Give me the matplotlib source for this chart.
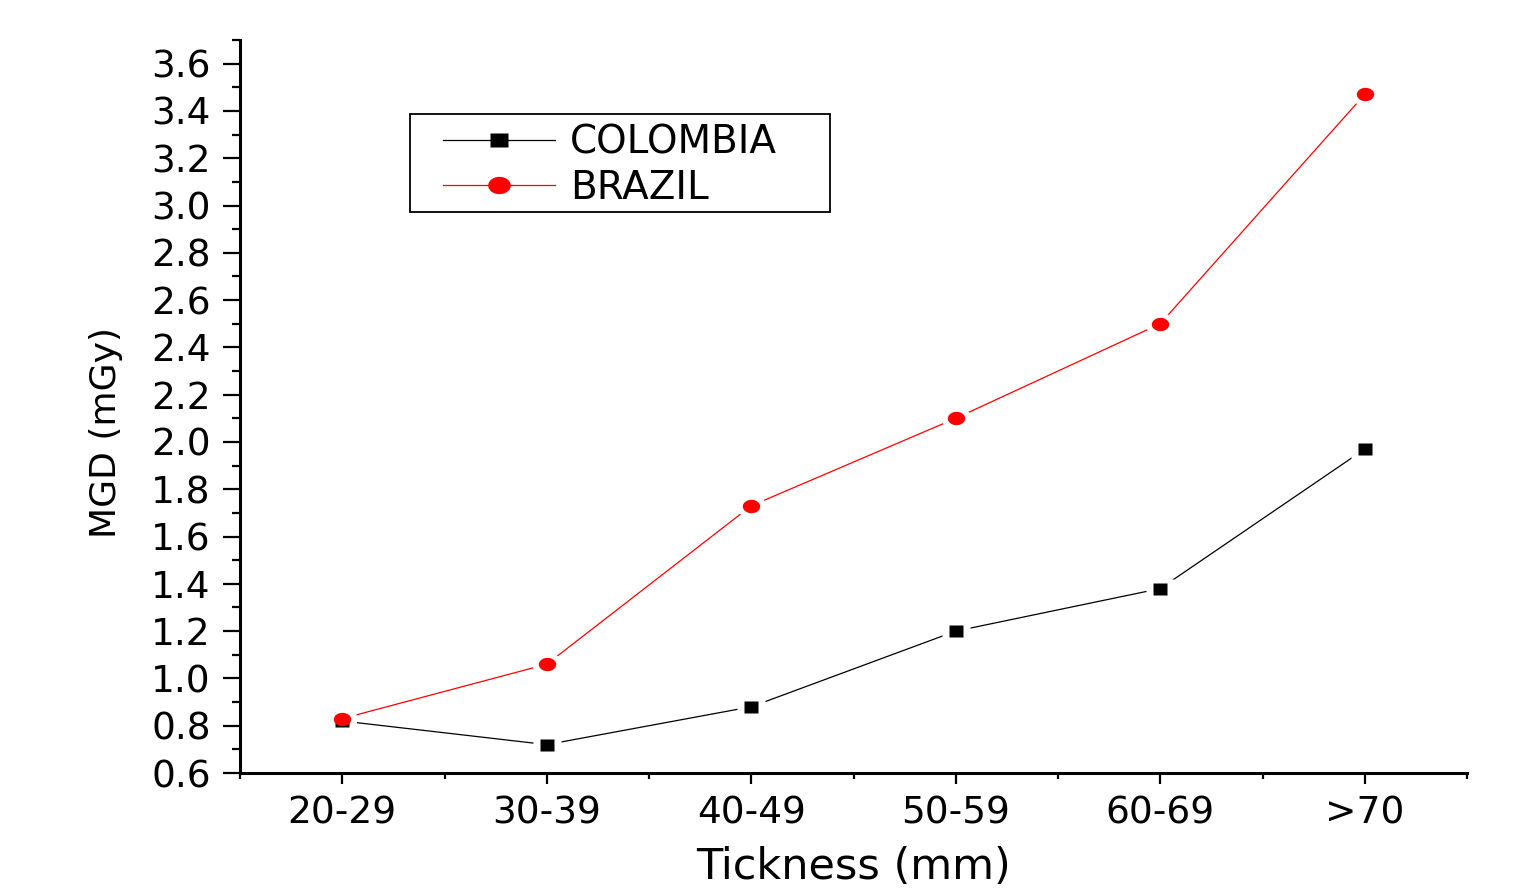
import numpy as np
import matplotlib.pyplot as plt
from matplotlib.lines import Line2D
from matplotlib.patches import Rectangle
from matplotlib.ticker import MultipleLocator, FixedLocator

plt.rcParams['font.family'] = ['DejaVu Sans']

categories = ["20-29", "30-39", "40-49", "50-59", "60-69", ">70"]
colombia = [0.82, 0.72, 0.88, 1.20, 1.38, 1.97]
brazil = [0.83, 1.06, 1.73, 2.10, 2.50, 3.47]

# markers in the original are a bit wider than tall
t = np.linspace(0, 2 * np.pi, 48)
ellipse = list(zip(1.3 * np.cos(t), np.sin(t)))
rect = [(-1.3, -1), (1.3, -1), (1.3, 1), (-1.3, 1), (-1.3, -1)]

W, H = 1526, 891
fig = plt.figure(figsize=(W / 100, H / 100), dpi=100)
ax = fig.add_axes([240 / W, 1 - 773 / H, (1467 - 240) / W, (773 - 40) / H])

x = np.arange(len(categories))
series = [("COLOMBIA", colombia, "black", rect, 10.5),
          ("BRAZIL", brazil, "#ff0000", ellipse, 12.5)]

handles = []
for name, vals, col, mk, ms in series:
    ax.plot(x, vals, color=col, lw=0.9, zorder=2)
for name, vals, col, mk, ms in series:
    # white halo so the line stops short of each marker
    ax.plot(x, vals, ls="none", marker=mk, ms=ms + 9, mfc="white", mec="none", zorder=3)
for name, vals, col, mk, ms in series:
    ax.plot(x, vals, ls="none", marker=mk, ms=ms, mfc=col, mec="none", zorder=4)
    handles.append(Line2D([], [], color=col, lw=0.9, marker=mk, ms=ms * 1.3,
                          mfc=col, mec="none", label=name))

ax.set_xlim(-0.5, 5.5)
ax.set_ylim(0.6, 3.7)
ax.set_xticks(x)
ax.set_xticklabels(categories)
ax.xaxis.set_minor_locator(FixedLocator(np.arange(-0.5, 6, 1)))
ax.yaxis.set_major_locator(MultipleLocator(0.2))
ax.yaxis.set_minor_locator(MultipleLocator(0.1))
ax.yaxis.set_major_formatter(plt.FormatStrFormatter("%.1f"))

for s in ["top", "right"]:
    ax.spines[s].set_visible(False)
for s in ["left", "bottom"]:
    ax.spines[s].set_linewidth(2.2)

ax.tick_params(axis="y", which="major", direction="out", length=12, width=1.6, labelsize=27, pad=9)
ax.tick_params(axis="y", which="minor", direction="out", length=6, width=1.6)
ax.tick_params(axis="x", which="major", direction="out", length=8, width=1.6, labelsize=27, pad=8)
ax.tick_params(axis="x", which="minor", direction="out", length=4.5, width=1.6)

ax.set_ylabel("MGD (mGy)", fontsize=26)
ax.yaxis.set_label_coords(-0.095, 0.465)
ax.set_xlabel("Tickness (mm)", fontsize=31)
ax.xaxis.set_label_coords(0.5, -0.099)

leg = ax.legend(handles=handles, loc="upper left",
                bbox_to_anchor=(443 / W, 1 - 124 / H), bbox_transform=fig.transFigure,
                fontsize=28, frameon=False, handlelength=2.88, handletextpad=0.39,
                borderpad=0, labelspacing=0.18, borderaxespad=0)
fig.patches.append(Rectangle((410 / W, 1 - 212 / H), 420 / W, 98 / H, transform=fig.transFigure,
                             fill=False, edgecolor="black", linewidth=1.3, zorder=5))

plt.savefig("out.png", dpi=100)
